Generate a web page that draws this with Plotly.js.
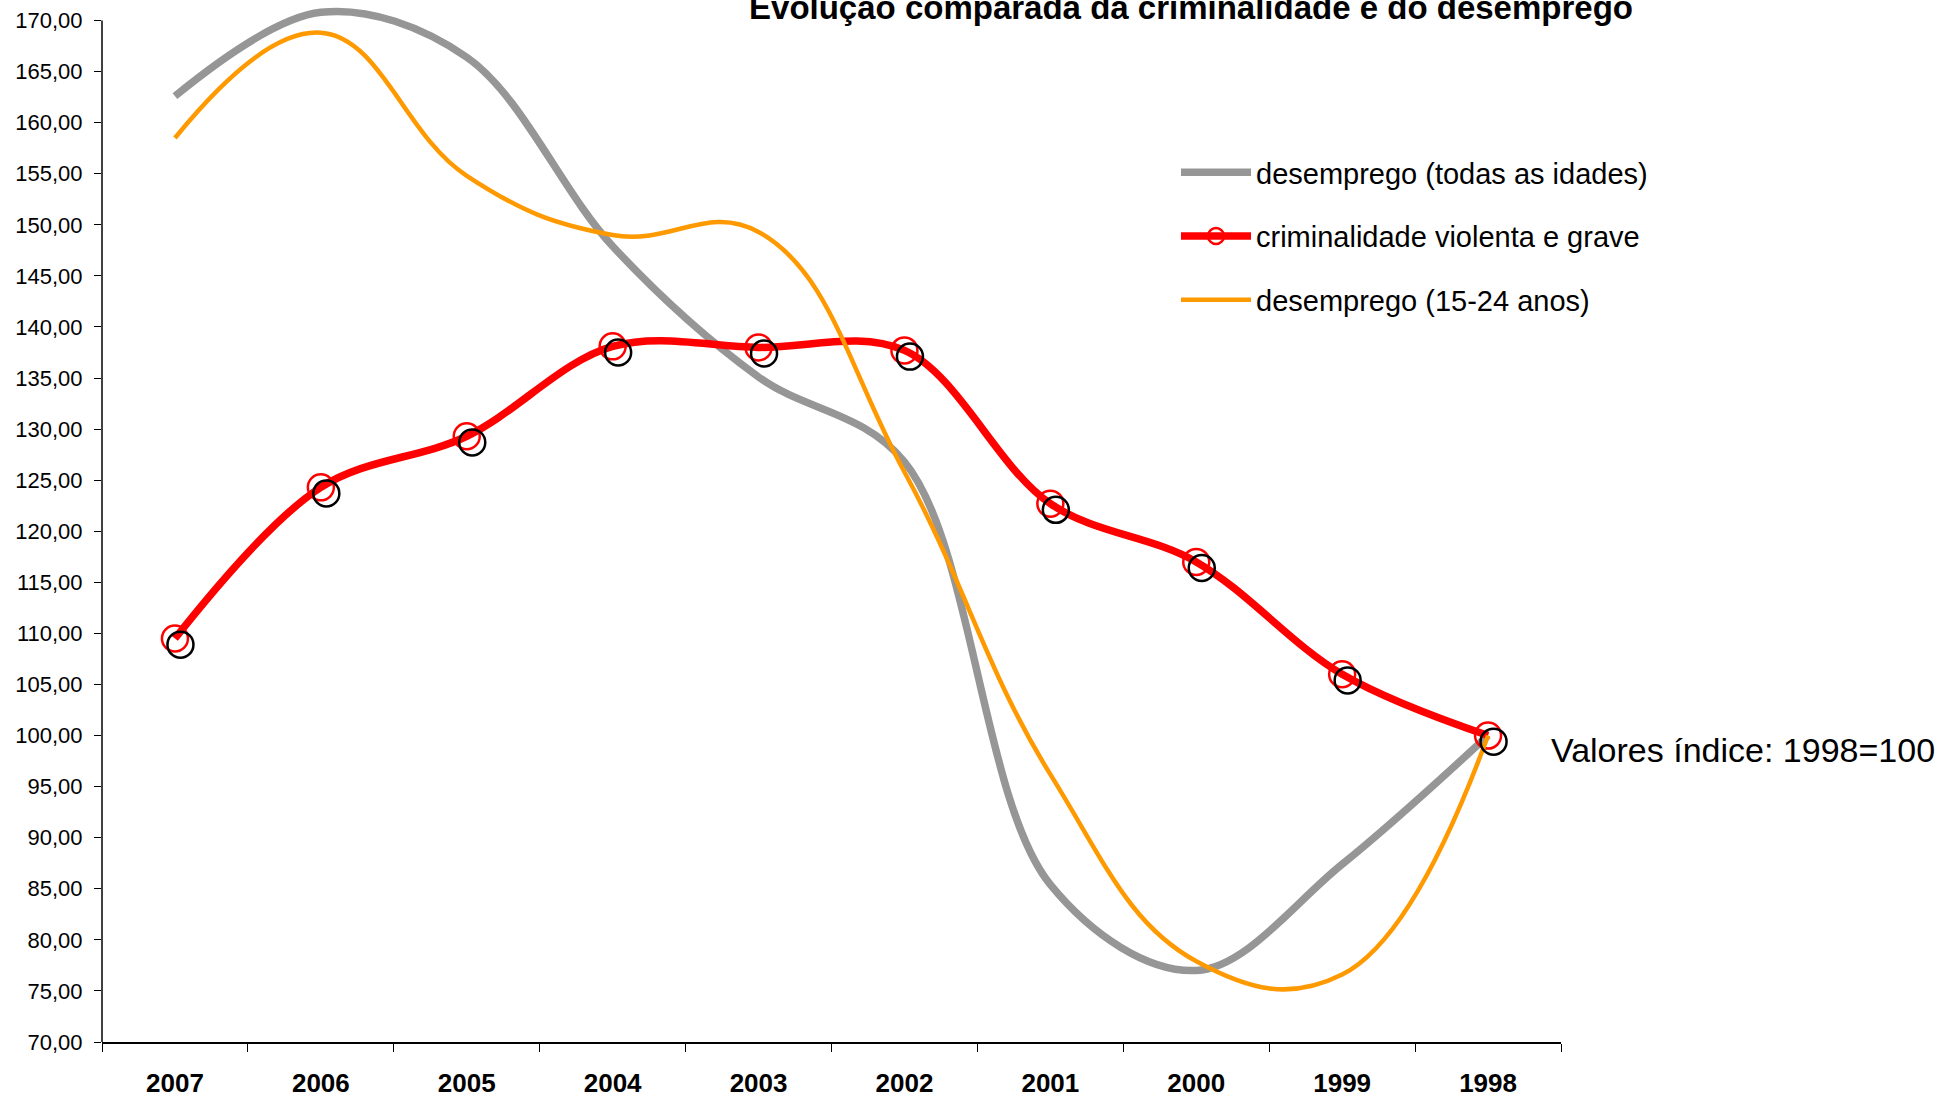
<!DOCTYPE html>
<html>
<head>
<meta charset="utf-8">
<script src="https://cdn.plot.ly/plotly-3.0.1.min.js"></script>
<style>html,body{margin:0;padding:0;background:#fff;}#chart{width:1958px;height:1099px;}</style>
</head>
<body>
<div id="chart"></div>
<script>
// Data (index values, 1998 = 100)
const years = ["2007","2006","2005","2004","2003","2002","2001","2000","1999","1998"];
const desempregoTotal = [162.6, 170.8, 166.4, 147.9, 135.1, 126.8, 85.4, 77.0, 87.4, 100.0];
const criminalidade = [109.5, 124.3, 129.3, 138.1, 138.0, 137.7, 122.7, 117.0, 106.0, 100.0];
const desempregoJovens = [158.5, 168.8, 154.8, 149.0, 149.3, 125.8, 96.2, 77.9, 76.6, 100.0];

const seriesNames = ["desemprego (todas as idades)", "criminalidade violenta e grave", "desemprego (15-24 anos)"];
const chartTitle = "Evolução comparada da criminalidade e do desemprego";
const noteText = "Valores índice: 1998=100";

const FONT = "Liberation Sans, Arial, sans-serif";

const traces = [
  {
    x: years, y: criminalidade, type: "scatter", mode: "markers",
    xaxis: "x2", yaxis: "y2", showlegend: false, hoverinfo: "skip",
    marker: {symbol: "circle-open", size: 26, color: "#000000", line: {width: 2.5, color: "#000000"}}
  },
  {
    x: years, y: desempregoTotal, type: "scatter", mode: "lines",
    name: seriesNames[0], legendgroup: "g1",
    line: {color: "#969696", width: 7.5, shape: "spline", smoothing: 1}
  },
  {
    x: years, y: criminalidade, type: "scatter", mode: "lines+markers",
    name: seriesNames[1], legendgroup: "g2",
    line: {color: "#FF0000", width: 7.5, shape: "spline", smoothing: 1},
    marker: {symbol: "circle-open", size: 26, color: "#FF0000", line: {width: 2.5, color: "#FF0000"}}
  },
  {
    x: years, y: desempregoJovens, type: "scatter", mode: "lines",
    name: seriesNames[2], legendgroup: "g3",
    line: {color: "#FF9900", width: 4.5, shape: "spline", smoothing: 1.2}
  }
];

// plot geometry (pixels): y=170 sits at 20.5 px, y=70 at 1042 px
const PL = 102, PR = 1561, PB = 1042;
const PX_PER_UNIT = (1042 - 20.5) / 100;
const yTop = 170 + 20.5 / PX_PER_UNIT;   // let lines run above the 170 axis end, as in the original
const PT = 0;
const PW = PR - PL, PH = PB - PT;
const xShift = 5.5 / 146;
const yShift = 0.6;

const layout = {
  width: 1958, height: 1099,
  paper_bgcolor: "#ffffff", plot_bgcolor: "#ffffff",
  margin: {l: PL, r: 1958 - PR, t: PT, b: 1099 - PB, pad: 0, autoexpand: false},
  separators: ",.",
  font: {family: FONT, color: "#000000"},
  title: {
    text: "<b>" + chartTitle + "</b>",
    font: {family: FONT, size: 33, color: "#000000"},
    x: 1191 / 1958, xanchor: "center", xref: "container",
    y: 1 - 7 / 1099, yanchor: "middle", yref: "container"
  },
  xaxis: {
    type: "category", range: [-0.5, 9.5], tickson: "boundaries",
    ticks: "outside", ticklen: 8, tickwidth: 1, tickcolor: "#000000",
    showline: true, linecolor: "#000000", linewidth: 1.5,
    showgrid: false, zeroline: false,
    tickfont: {family: FONT, size: 26, color: "#000000", weight: "bold"},
    ticklabelstandoff: 17
  },
  yaxis: {
    range: [70, yTop], dtick: 5, tick0: 70, tickformat: ".2f",
    ticks: "outside", ticklen: 7, tickwidth: 1, tickcolor: "#000000",
    showline: false,
    showgrid: false, zeroline: false,
    tickfont: {family: FONT, size: 22, color: "#000000"},
    ticklabelstandoff: 7
  },
  xaxis2: {
    type: "category", overlaying: "x", range: [-0.5 - xShift, 9.5 - xShift],
    visible: false, showgrid: false, zeroline: false
  },
  yaxis2: {
    overlaying: "y", range: [70 + yShift, yTop + yShift],
    visible: false, showgrid: false, zeroline: false
  },
  shapes: [
    {type: "line", xref: "paper", yref: "y", x0: 0, x1: 0, y0: 70, y1: 170,
     line: {color: "#000000", width: 1.5}, layer: "below"}
  ],
  showlegend: true,
  legend: {
    xref: "paper", yref: "paper",
    x: (1176 - PL) / PW, xanchor: "left",
    y: (PB - 147) / PH, yanchor: "top",
    font: {family: FONT, size: 29, color: "#000000"},
    bgcolor: "rgba(0,0,0,0)", borderwidth: 0,
    traceorder: "grouped", tracegroupgap: 23,
    itemwidth: 70
  },
  annotations: [
    {
      text: noteText, xref: "paper", yref: "paper",
      x: (1549 - PL) / PW, xanchor: "left",
      y: (PB - 750) / PH, yanchor: "middle",
      showarrow: false,
      font: {family: FONT, size: 34, color: "#000000"}
    }
  ]
};

Plotly.newPlot("chart", traces, layout, {displayModeBar: false, staticPlot: true});
</script>
</body>
</html>
